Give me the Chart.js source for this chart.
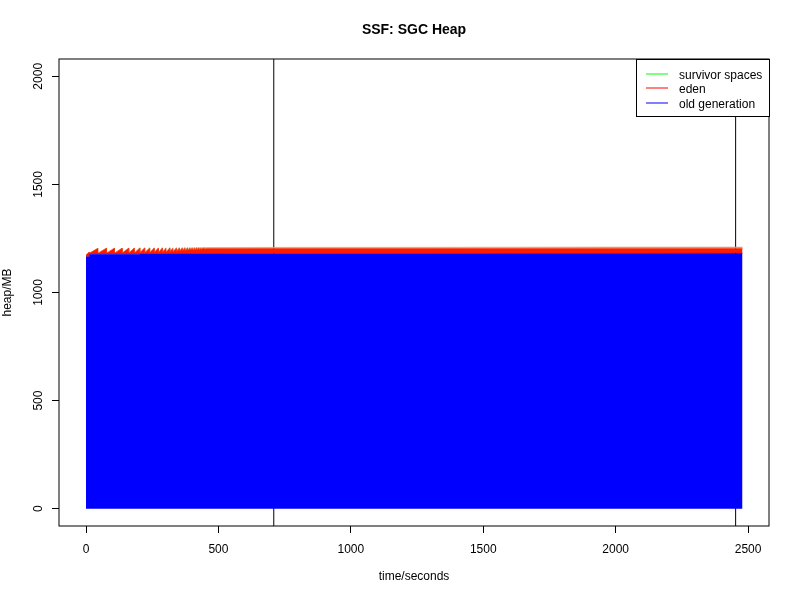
<!DOCTYPE html>
<html>
<head>
<meta charset="utf-8">
<script src="https://cdn.jsdelivr.net/npm/chart.js@4.4.1/dist/chart.umd.min.js"></script>
<style>
  html, body { margin: 0; padding: 0; background: #fff; }
  #wrap { width: 800px; height: 600px; }
</style>
</head>
<body>
<div id="wrap"><canvas id="c" width="800" height="600"></canvas></div>
<script>
// ---- data ----
const chartTitle = "SSF: SGC Heap";
const xTitle = "time/seconds";
const yTitle = "heap/MB";
const seriesNames = ["survivor spaces", "eden", "old generation"];

// sample times (seconds)
const times = [0, 12, 12.5, 45, 45.5, 77, 77.5, 107, 107.5, 136, 136.5, 161, 161.5,
  182, 182.5, 203, 203.5, 221, 221.5, 240, 240.5, 257, 257.5, 273, 273.5, 288, 288.5,
  302, 302.5, 316, 316.5, 328, 328.5, 341, 341.5, 352, 352.5, 363, 363.5, 373, 373.5,
  383, 383.5, 392, 392.5, 401, 401.5, 410, 410.5, 418, 418.5, 426, 426.5, 434, 434.5,
  442, 442.5, 449, 449.5, 456, 800, 1200, 1600, 2000, 2479];
// old generation (MB)
const oldGen = [1165, 1165, 1177, 1177, 1177, 1177, 1177, 1177, 1177, 1177, 1177, 1177, 1177,
  1177, 1177, 1177, 1177.5, 1177.5, 1177.5, 1177.5, 1177.5, 1177.5, 1177.5, 1177.5, 1177.5, 1177.5, 1177.5,
  1177.5, 1177.5, 1177.5, 1178, 1178, 1178, 1178, 1178, 1178, 1178, 1178, 1178, 1178, 1178,
  1178, 1178, 1178, 1178, 1178, 1178, 1178, 1178, 1178, 1178, 1178, 1178, 1178, 1178,
  1178, 1178, 1178, 1178, 1178, 1179, 1179.5, 1180, 1180.5, 1181];
// eden (MB)
const eden = [8, 22, 4, 28, 5, 28, 5, 28, 5, 28, 6, 28, 6,
  28, 6, 28, 6, 28, 6, 27, 6, 27, 7, 27, 7, 27, 8,
  27, 9, 27, 10, 26, 11, 26, 12, 26, 13, 26, 14, 26, 15,
  26, 16, 26, 17, 26, 18, 26, 19, 26, 20, 26, 21, 26, 22,
  26, 23, 26, 24, 25, 24.5, 24, 23.5, 23.5, 23];
// survivor spaces (MB)
const survivor = [0, 0, 0, 0, 0, 0, 0, 0, 0, 0, 0, 0, 0,
  0, 0, 1.5, 1.5, 1.5, 1.5, 2, 2, 2, 2, 2, 2, 2.5, 2.5,
  2.5, 2.5, 3, 3, 3, 3, 3, 3, 3.5, 3.5, 3.5, 3.5, 4, 4,
  4, 4, 4, 4, 4.5, 4.5, 4.5, 4.5, 5, 5, 5, 5, 5, 5,
  5, 5, 5, 5, 5, 5.5, 5.5, 6, 6, 6];
// vertical marker lines (seconds)
const markers = [709, 2453];
const xTicks = [0, 500, 1000, 1500, 2000, 2500];
const yTicks = [0, 500, 1000, 1500, 2000];

// ---- build datasets ----
const FONT = "'Liberation Sans', Arial, Helvetica, sans-serif";
const oldPts = times.map((t, i) => ({x: t, y: oldGen[i]}));
const edenPts = times.map((t, i) => ({x: t, y: oldGen[i] + eden[i]}));
const survPts = times.map((t, i) => ({x: t, y: oldGen[i] + eden[i] + survivor[i]}));

const datasets = [
  {label: seriesNames[2], data: oldPts, fill: 'origin', backgroundColor: '#0000ff',
   borderColor: '#0000ff', borderWidth: 0.5, pointRadius: 0, tension: 0},
  {label: seriesNames[1], data: edenPts, fill: '-1', backgroundColor: '#ff1a00',
   borderColor: '#ff2a00', borderWidth: 0.5, pointRadius: 0, tension: 0},
  {label: seriesNames[0], data: survPts, fill: '-1', backgroundColor: 'rgba(196,150,90,0.85)',
   borderColor: 'rgba(205,170,120,0.8)', borderWidth: 0.8, pointRadius: 0, tension: 0}
];
markers.forEach(m => datasets.push({label: 'marker', data: [{x: m, y: -80}, {x: m, y: 2080}],
  borderColor: '#000', borderWidth: 1, pointRadius: 0, fill: false}));

const legendColors = ['#00ff00', '#ff0000', '#0000ff'];

const decor = {
  id: 'decor',
  afterDraw(chart) {
    const ctx = chart.ctx;
    const a = chart.chartArea;
    const ys = chart.scales.y;
    ctx.save();
    // box
    ctx.strokeStyle = '#000';
    ctx.lineWidth = 1;
    ctx.strokeRect(a.left, a.top, a.right - a.left, a.bottom - a.top);
    // y tick labels (rotated)
    ctx.fillStyle = '#000';
    ctx.font = '12px ' + FONT;
    ctx.textAlign = 'center';
    ctx.textBaseline = 'middle';
    yTicks.forEach(v => {
      const py = ys.getPixelForValue(v);
      ctx.save();
      ctx.translate(38.5, py);
      ctx.rotate(-Math.PI / 2);
      ctx.fillText(String(v), 0, 0);
      ctx.restore();
    });
    // axis titles
    ctx.fillText(xTitle, (a.left + a.right) / 2, 577);
    ctx.save();
    ctx.translate(7.5, (a.top + a.bottom) / 2);
    ctx.rotate(-Math.PI / 2);
    ctx.fillText(yTitle, 0, 0);
    ctx.restore();
    // title
    ctx.font = 'bold 14px ' + FONT;
    ctx.fillText(chartTitle, (a.left + a.right) / 2, 30.5);
    // legend
    const lx = 636, ly = a.top, lw = a.right - 636 + 1, lh = 116 - a.top;
    ctx.fillStyle = '#fff';
    ctx.fillRect(lx, ly, lw, lh);
    ctx.strokeStyle = '#000';
    ctx.strokeRect(lx + 0.5, ly + 0.5, lw - 1, lh);
    ctx.font = '12px ' + FONT;
    ctx.textAlign = 'left';
    const rows = [74, 88, 103];
    seriesNames.forEach((n, i) => {
      ctx.strokeStyle = legendColors[i];
      ctx.lineWidth = 1;
      ctx.beginPath();
      ctx.moveTo(646, rows[i]);
      ctx.lineTo(668, rows[i]);
      ctx.stroke();
      ctx.fillStyle = '#000';
      ctx.fillText(n, 679, rows[i] + 1.5);
    });
    ctx.restore();
  }
};

new Chart(document.getElementById('c'), {
  type: 'line',
  data: {datasets},
  options: {
    responsive: false,
    animation: false,
    devicePixelRatio: 1,
    layout: {padding: {top: 59, right: 31, left: 0, bottom: 0}},
    plugins: {legend: {display: false}, tooltip: {enabled: false}, title: {display: false}},
    scales: {
      x: {
        type: 'linear', min: -102, max: 2579,
        afterFit: s => { s.height = 74; },
        afterBuildTicks: s => { s.ticks = xTicks.map(v => ({value: v})); },
        grid: {display: true, drawOnChartArea: false, drawTicks: true, tickLength: 7, color: '#000', lineWidth: 1},
        border: {display: false},
        ticks: {color: '#000', font: {family: FONT, size: 12}, padding: 9, maxRotation: 0, autoSkip: false,
                callback: v => String(v)}
      },
      y: {
        type: 'linear', min: -80, max: 2080,
        afterFit: s => { s.width = 59; },
        afterBuildTicks: s => { s.ticks = yTicks.map(v => ({value: v})); },
        grid: {display: true, drawOnChartArea: false, drawTicks: true, tickLength: 7, color: '#000', lineWidth: 1},
        border: {display: false},
        ticks: {color: 'rgba(0,0,0,0)', font: {family: FONT, size: 12}}
      }
    }
  },
  plugins: [decor]
});
</script>
</body>
</html>
